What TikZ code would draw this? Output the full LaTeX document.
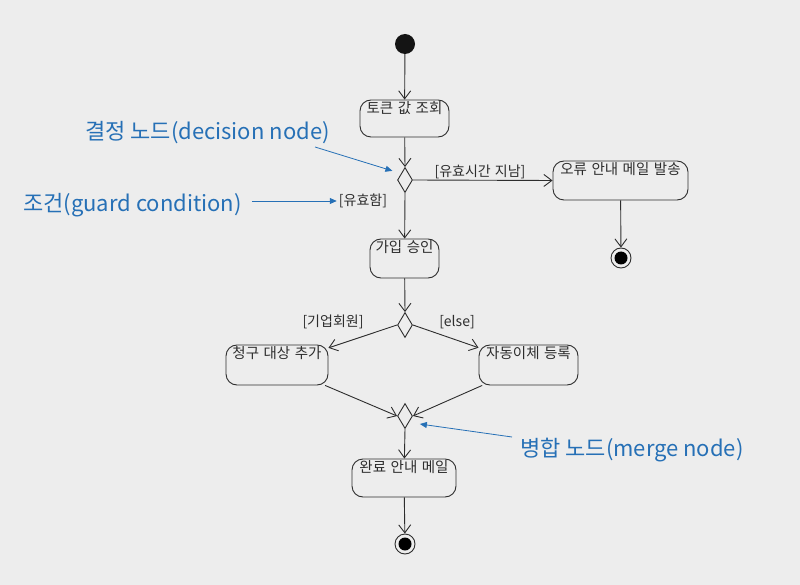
\documentclass[tikz,border=0pt]{standalone}
\usepackage{fontspec}
\setmainfont{Noto Sans CJK KR}
\usetikzlibrary{arrows.meta,shapes.geometric,calc}
\definecolor{bg}{RGB}{237,237,237}
\definecolor{ln}{RGB}{45,45,45}
\definecolor{annc}{RGB}{38,112,182}
\newcommand\myboxfont{\fontsize{14.5}{16}\selectfont\spaceskip=4.5pt plus 1pt\relax}
\newcommand\myguardfont{\fontsize{14}{15}\selectfont\spaceskip=4.2pt plus 1pt\relax}
\begin{document}
\begin{tikzpicture}[x=1pt,y=-1pt,
  flow/.style={draw=ln, line width=0.9pt, -{Straight Barb[length=8pt,width=12pt,line width=0.9pt]}},
  actbox/.style={draw=ln, line width=0.9pt, rounded corners=11pt, inner sep=0},
  boxlbl/.style={anchor=north, inner sep=1.5pt, yshift=-0.5pt, text=ln, font=\myboxfont},
  guard/.style={inner sep=0, text=ln, font=\myguardfont},
  dec/.style={diamond, draw=ln, line width=0.9pt, inner sep=0, minimum width=15pt, minimum height=25pt},
  annot/.style={inner sep=0, text=annc, font=\fontsize{22}{26}\selectfont},
  annarrow/.style={draw=annc, line width=0.8pt, -{Triangle[length=7pt,width=6pt]}},
  finalnode/.style={circle, draw=ln, line width=0.9pt, minimum size=20pt, inner sep=0,
    path picture={\fill[black] (path picture bounding box.center) circle (6.5pt);}}
]
\fill[bg] (0,0) rectangle (800,585);
\useasboundingbox (0,0) rectangle (800,585);

% nodes
\node[circle, fill=black!92, minimum size=20pt, inner sep=0] (start) at (405,44) {};
\node[actbox, minimum width=89pt, minimum height=37pt, label={[boxlbl]north:토큰 값 조회}] (tok) at (404.5,118.5) {};
\node[dec] (d1) at (405,180) {};
\node[actbox, minimum width=135pt, minimum height=39pt, label={[boxlbl]north:오류 안내 메일 발송}] (err) at (620.5,180.5) {};
\node[finalnode] (fin1) at (621,258) {};
\node[actbox, minimum width=69pt, minimum height=39pt, label={[boxlbl]north:가입 승인}] (ok) at (404.5,258.5) {};
\node[dec] (d2) at (405,325) {};
\node[actbox, minimum width=102pt, minimum height=40pt, label={[boxlbl]north:청구 대상 추가}] (c1) at (277,365) {};
\node[actbox, minimum width=99pt, minimum height=40pt, label={[boxlbl]north:자동이체 등록}] (c2) at (528.5,365) {};
\node[dec] (d3) at (405,416) {};
\node[actbox, minimum width=104pt, minimum height=38pt, label={[boxlbl]north:완료 안내 메일}] (done) at (404,478) {};
\node[finalnode] (fin2) at (405,544) {};

% guard labels
\node[guard] (g1) at (480,172) {[유효시간 지남]};
\node[guard] (g2) at (363,201) {[유효함]};
\node[guard] (g3) at (333,322) {[기업회원]};
\node[guard] (g4) at (457,322) {[else]};

% connectors
\draw[flow] (start) -- (tok);
\draw[flow] (tok) -- (d1.north);
\draw[flow] (d1.east) -- (err.west);
\draw[flow] (err) -- (fin1);
\draw[flow] (d1.south) -- (ok);
\draw[flow] (ok) -- (d2.north);
\draw[flow] (d2.west) -- (c1);
\draw[flow] (d2.east) -- (c2);
\draw[flow] (c1) -- (d3.west);
\draw[flow] (c2) -- (d3.east);
\draw[flow] (d3.south) -- (done);
\draw[flow] (done) -- (fin2);

% annotations
\node[annot, anchor=west] (an1) at (85,133) {결정 노드(decision node)};
\node[annot, anchor=west] (an2) at (23,205) {조건(guard condition)};
\node[annot, anchor=west] (an3) at (520,450) {병합 노드(merge node)};
\coordinate (a1s) at (315,147);
\coordinate (a3s) at (512,437);
\draw[annarrow, shorten >=9pt] (a1s) -- (d1.north west);
\draw[annarrow, shorten <=10pt, shorten >=2pt] (an2.east |- g2.west) -- (g2.west);
\draw[annarrow, shorten >=11pt] (a3s) -- (d3.south east);
\end{tikzpicture}
\end{document}
